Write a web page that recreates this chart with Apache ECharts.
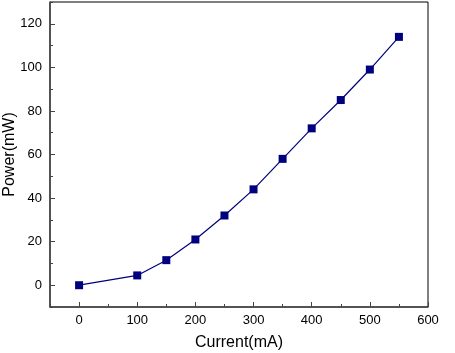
<!DOCTYPE html>
<html>
<head>
<meta charset="utf-8">
<script src="https://cdn.jsdelivr.net/npm/echarts@6/dist/echarts.min.js"></script>
<style>
html, body { margin: 0; padding: 0; background: #fff; }
#main { width: 455px; height: 353px; }
</style>
</head>
<body>
<div id="main"></div>
<script>
// measured points
let current = [0, 100, 150, 200, 250, 300, 350, 400, 450, 500, 550];
let power = [0, 4.5, 11.5, 21, 32, 44, 58, 72, 85, 99, 114];
let xTicks = [0, 100, 200, 300, 400, 500, 600];
let yTicks = [0, 20, 40, 60, 80, 100, 120];
let xMinor = [-50, 50, 150, 250, 350, 450, 550];
let yMinor = [-10, 10, 30, 50, 70, 90, 110, 130];

let pts = current.map((c, i) => [c, power[i]]);
let font = 'Liberation Sans, Arial, sans-serif';
let navy = '#00007f';
let axisGray = '#444';

// second axis pair only draws the short minor ticks
function minorAxis(min, max, vals) {
    return {
        type: 'value', min: min, max: max,
        axisLine: { show: false, onZero: false },
        axisTick: { inside: true, length: 3, customValues: vals, lineStyle: { color: axisGray } },
        axisLabel: { show: false },
        splitLine: { show: false }
    };
}
let xMinorAxis = minorAxis(-50, 600, xMinor);
xMinorAxis.position = 'bottom';
let yMinorAxis = minorAxis(-10, 130, yMinor);
yMinorAxis.position = 'left';

var chart = echarts.init(document.getElementById('main'));
chart.setOption({
    animation: false,
    grid: { left: 50, right: 27, top: 2, bottom: 46, outerBoundsMode: 'none', containLabel: false,
        show: true, borderColor: '#000', borderWidth: 1 },
    xAxis: [{
        type: 'value', min: -50, max: 600,
        name: 'Current(mA)', nameLocation: 'middle', nameGap: 28, nameMoveOverlap: false,
        nameTextStyle: { fontFamily: font, fontSize: 16, color: '#000' },
        axisLine: { onZero: false, lineStyle: { color: axisGray, width: 1.5 } },
        axisTick: { inside: true, length: 5, customValues: xTicks, lineStyle: { color: axisGray } },
        axisLabel: { customValues: xTicks, fontFamily: font, fontSize: 13, color: '#000', margin: 7 },
        splitLine: { show: false }
    }, xMinorAxis],
    yAxis: [{
        type: 'value', min: -10, max: 130,
        name: 'Power(mW)', nameLocation: 'middle', nameGap: 32, nameMoveOverlap: false,
        nameTextStyle: { fontFamily: font, fontSize: 16, color: '#000' },
        axisLine: { onZero: false, lineStyle: { color: axisGray, width: 1.5 } },
        axisTick: { inside: true, length: 5, customValues: yTicks, lineStyle: { color: axisGray } },
        axisLabel: { customValues: yTicks, fontFamily: font, fontSize: 13, color: '#000', margin: 8 },
        splitLine: { show: false }
    }, yMinorAxis],
    series: [{
        type: 'line',
        data: pts,
        symbol: 'rect',
        symbolSize: 8,
        lineStyle: { color: navy, width: 1.2 },
        itemStyle: { color: navy }
    }]
});
</script>
</body>
</html>
